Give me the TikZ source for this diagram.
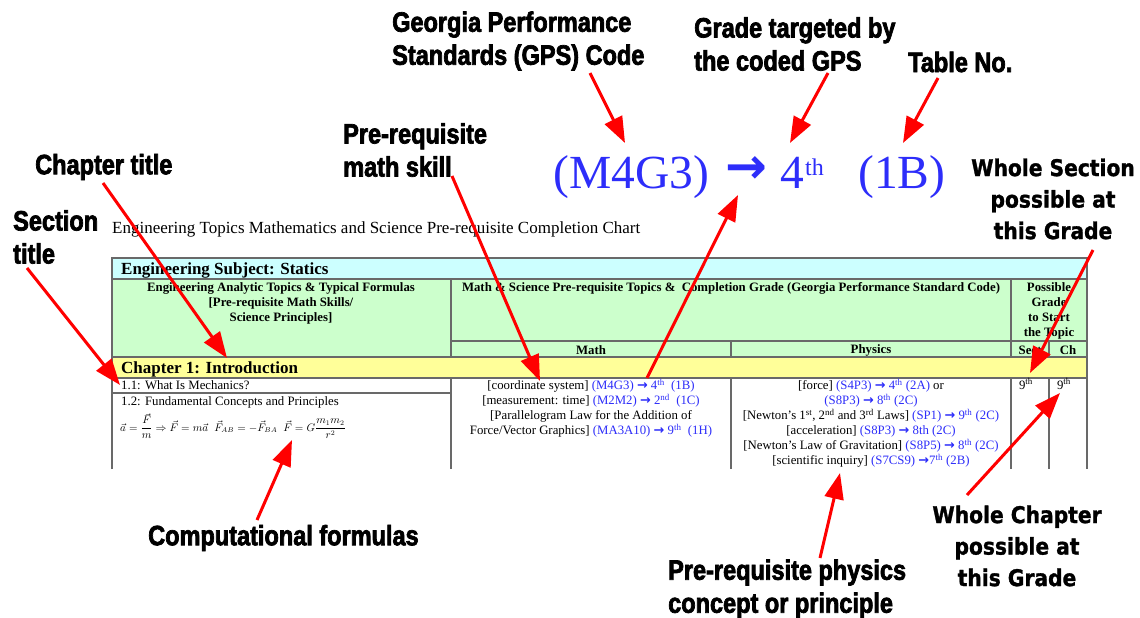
\documentclass[tikz,border=0pt]{standalone}
\usepackage{fontspec}
\setmainfont{Liberation Serif}
\newfontfamily\labfont[FakeStretch=0.84, FakeBold=2.5]{Liberation Sans}
\newfontfamily\wfont[FakeStretch=0.88, FakeBold=1.2]{DejaVu Sans}
\newfontfamily\arfont{DejaVu Sans}
\usetikzlibrary{arrows.meta}
\definecolor{gpsblue}{RGB}{45,45,250}
\definecolor{cyanbg}{RGB}{204,255,255}
\definecolor{greenbg}{RGB}{204,255,204}
\definecolor{yellowbg}{RGB}{255,255,153}
\definecolor{tgray}{RGB}{105,105,105}
\newcommand\gpc[1]{\textcolor{gpsblue}{#1}}
\newcommand\garr{{\arfont\bfseries →}}
\begin{document}
\begin{tikzpicture}[x=1pt,y=-1pt,
  lab/.style={font=\labfont\bfseries\fontsize{28}{33}\selectfont, align=left, inner sep=0pt},
  whole/.style={font=\wfont\bfseries\fontsize{23}{31.5}\selectfont, align=center, inner sep=0pt},
  redarr/.style={draw=red, line width=3pt, -{Triangle[length=26pt,width=19pt]}},
  tline/.style={draw=tgray, line width=1.3pt},
  hdr/.style={font=\bfseries\fontsize{12.8}{15}\selectfont, align=center, inner sep=0pt},
  body/.style={font=\fontsize{12.8}{15}\selectfont, align=center, inner sep=0pt},
  big/.style={font=\fontsize{47.5}{50}\selectfont, text=gpsblue, inner sep=0pt}
]
\useasboundingbox (0,0) rectangle (1140,618);
\fill[white] (0,0) rectangle (1140,618);

% ---------- table backgrounds ----------
\fill[cyanbg] (112,258) rectangle (1087,279);
\fill[greenbg] (112,279) rectangle (1087,357);
\fill[yellowbg] (112,357) rectangle (1087,378);

% ---------- table rules ----------
\draw[tline] (112,469) -- (112,258) -- (1087,258) -- (1087,469);
\draw[tline] (112,279) -- (1087,279);
\draw[tline] (112,357) -- (1087,357);
\draw[tline] (112,378) -- (1087,378);
\draw[tline] (451,341) -- (1087,341);
\draw[tline] (112,393) -- (451,393);
\draw[tline] (451,279) -- (451,357) (451,378) -- (451,469);
\draw[tline] (1011,279) -- (1011,357) (1011,378) -- (1011,469);
\draw[tline] (731,341) -- (731,357) (731,378) -- (731,469);
\draw[tline] (1049,341) -- (1049,357) (1049,378) -- (1049,469);

% ---------- table texts ----------
\node[anchor=base west, inner sep=0pt, font=\fontsize{17}{19}\selectfont] (title) at (112,233)
  {Engineering Topics Mathematics and Science Pre-requisite Completion Chart};
\node[anchor=base west, inner sep=0pt, font=\bfseries\fontsize{17}{19}\selectfont] (subject) at (121,274)
  {Engineering Subject: Statics};
\node[hdr, anchor=north] (hdrA) at (281,282)
  {Engineering Analytic Topics \& Typical Formulas\\ {[}Pre-requisite Math Skills/\\ Science Principles{]}};
\node[hdr, anchor=north] (hdrB) at (731,282)
  {Math \& Science Pre-requisite Topics \&\ \ Completion Grade (Georgia Performance Standard Code)};
\node[hdr, anchor=north] (hdrC) at (1049,282)
  {Possible\\ Grade\\ to Start\\ the Topic};
\node[hdr] (hdrMath) at (591,350) {Math};
\node[hdr] (hdrPhys) at (871,350) {Physics};
\node[hdr] (hdrSect) at (1030,350) {Sect};
\node[hdr] (hdrCh) at (1068,350) {Ch};
\node[anchor=base west, inner sep=0pt, font=\bfseries\fontsize{17}{19}\selectfont] (chapter) at (121,373)
  {Chapter 1: Introduction};
\node[anchor=base west, inner sep=0pt, font=\fontsize{12.8}{15}\selectfont] (sec11) at (121,389)
  {1.1: What Is Mechanics?};
\node[anchor=base west, inner sep=0pt, font=\fontsize{12.8}{15}\selectfont] (sec12) at (121,405)
  {1.2: Fundamental Concepts and Principles};
\node[anchor=west, inner sep=0pt, font=\fontsize{10.5}{12}\selectfont] (formula) at (120,426)
  {$\vec a=\displaystyle\frac{\vec F}{m}\Rightarrow \vec F=m\vec a\;\; \vec F_{AB}=-\vec F_{BA}\;\; \vec F=G\frac{m_1m_2}{r^2}$};
\node[body, anchor=north] (mathbody) at (591,379)
  {{[}coordinate system{]} \gpc{(M4G3) \garr\ 4\textsuperscript{th}\ \ (1B)}\\
   {[}measurement: time{]} \gpc{(M2M2) \garr\ 2\textsuperscript{nd}\ \ (1C)}\\
   {[}Parallelogram Law for the Addition of\\
   Force/Vector Graphics{]} \gpc{(MA3A10) \garr\ 9\textsuperscript{th}\ \ (1H)}};
\node[body, anchor=north] (physbody) at (871,379)
  {{[}force{]} \gpc{(S4P3) \garr\ 4\textsuperscript{th} (2A)} or\\
   \gpc{(S8P3) \garr\ 8\textsuperscript{th} (2C)}\\
   {[}Newton's 1\textsuperscript{st}, 2\textsuperscript{nd} and 3\textsuperscript{rd} Laws{]} \gpc{(SP1) \garr\ 9\textsuperscript{th} (2C)}\\
   {[}acceleration{]} \gpc{(S8P3) \garr\ 8th (2C)}\\
   {[}Newton's Law of Gravitation{]} \gpc{(S8P5) \garr\ 8\textsuperscript{th} (2C)}\\
   {[}scientific inquiry{]} \gpc{(S7CS9) \garr7\textsuperscript{th} (2B)}};
\node[body] (sectgrade) at (1026,384) {9\textsuperscript{th}};
\node[body] (chgrade) at (1064,384) {9\textsuperscript{th}};

% ---------- big code ----------
\node[big, anchor=base west] (bigcode) at (553,188) {(M4G3)};
\node[inner sep=0pt, text=gpsblue, font=\arfont\bfseries\fontsize{50}{50}\selectfont] (bigarrow) at (746,170) {→};
\node[big, anchor=base west] (bignum) at (780,188) {4};
\node[inner sep=0pt, text=gpsblue, anchor=base west, font=\fontsize{24}{26}\selectfont] (bigsup) at (805,175) {th};
\node[big, anchor=base west] (bigtable) at (858,188) {(1B)};

% ---------- callout labels ----------
\node[lab, anchor=west] (labGPS) at (392,41) {Georgia Performance\\Standards (GPS) Code};
\node[lab, anchor=west] (labGrade) at (694,44) {Grade targeted by\\the coded GPS};
\node[lab, anchor=west] (labTable) at (908,62) {Table No.};
\node[lab, anchor=west] (labMath) at (343,150) {Pre-requisite\\math skill};
\node[lab, anchor=west] (labChap) at (35,167) {Chapter title};
\node[lab, anchor=west] (labSect) at (13,237) {Section\\title};
\node[whole] (labWSect) at (1053,199) {Whole Section\\possible at\\this Grade};
\node[lab, anchor=west] (labComp) at (148,538) {Computational formulas};
\node[lab, anchor=west] (labPhys) at (668,589) {Pre-requisite physics\\concept or principle};
\node[whole] (labWChap) at (1017,546) {Whole Chapter\\possible at\\this Grade};

% ---------- arrow end points ----------
\coordinate (sGPS) at (590,73);   \coordinate (tGPS) at (625,143);
\coordinate (sGrade) at (828,73); \coordinate (tGrade) at (790,143);
\coordinate (sTable) at (938,78); \coordinate (tTable) at (903,143);
\coordinate (sMath) at (452,176); \coordinate (tMath) at (540,381);
\coordinate (sChap) at (103,183); \coordinate (tChap) at (227,358);
\coordinate (sSect) at (27,268);  \coordinate (tSect) at (120,385);
\coordinate (sBig) at (647,378);  \coordinate (tBig) at (738,195);
\coordinate (sWSect) at (1093,250); \coordinate (tWSect) at (1030,373);
\coordinate (sWChap) at (967,495);  \coordinate (tWChap) at (1060,393);
\coordinate (sPhys) at (820,558); \coordinate (tPhys) at (840,473);
\coordinate (sComp) at (257,520); \coordinate (tComp) at (292,440);

% ---------- red arrows ----------
\draw[redarr] (sGPS) -- (tGPS);
\draw[redarr] (sGrade) -- (tGrade);
\draw[redarr] (sTable) -- (tTable);
\draw[redarr] (sMath) -- (tMath);
\draw[redarr] (sChap) -- (tChap);
\draw[redarr] (sSect) -- (tSect);
\draw[redarr] (sBig) -- (tBig);
\draw[redarr] (sWSect) -- (tWSect);
\draw[redarr] (sWChap) -- (tWChap);
\draw[redarr] (sPhys) -- (tPhys);
\draw[redarr] (sComp) -- (tComp);
\end{tikzpicture}
\end{document}
